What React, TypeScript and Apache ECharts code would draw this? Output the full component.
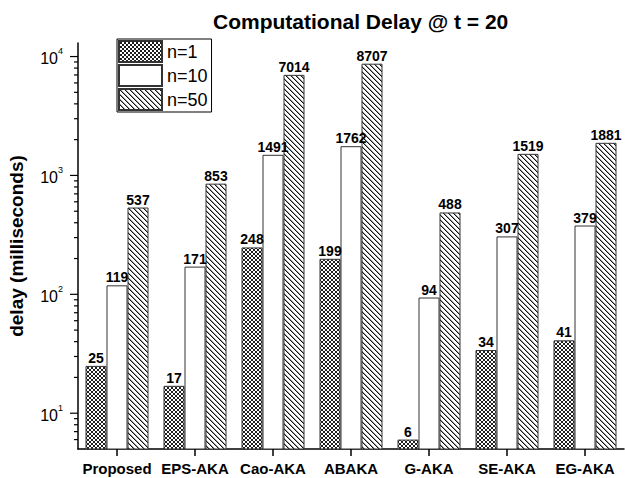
import React, { useEffect, useRef, useState } from "react";
import * as echarts from "echarts";

const categories = ["Proposed", "EPS-AKA", "Cao-AKA", "ABAKA", "G-AKA", "SE-AKA", "EG-AKA"];
const seriesNames = ["n=1", "n=10", "n=50"];
const n1 = [25, 17, 248, 199, 6, 34, 41];
const n10 = [119, 171, 1491, 1762, 94, 307, 379];
const n50 = [537, 853, 7014, 8707, 488, 1519, 1881];
const yMajorTicks = [10, 100, 1000, 10000];
const yMinorBelowFirst = [6, 7, 8, 9];
const yMinorMultipliers = [2, 3, 4, 5, 6, 7, 8, 9];
const yMin = 5;
const yMax = 13000;

const FONT = "'Liberation Sans', Arial, Helvetica, sans-serif";

function makePattern(kind: "cross" | "hatch") {
  const n = kind === "cross" ? 4 : 5;
  const c = document.createElement("canvas");
  c.width = n;
  c.height = n;
  const ctx = c.getContext("2d")!;
  ctx.fillStyle = "#fff";
  ctx.fillRect(0, 0, n, n);
  if (kind === "cross") {
    ctx.fillStyle = "#1e1e1e";
    for (let i = 0; i < n; i++) {
      ctx.fillRect(i, i, 1, 1);
      ctx.fillRect(n - 1 - i, i, 1, 1);
    }
  } else {
    for (let i = 0; i < n; i++) {
      ctx.fillStyle = "#111";
      ctx.fillRect(i, i, 1, 1);
      ctx.fillStyle = "#999";
      ctx.fillRect((i + 1) % n, i, 1, 1);
    }
  }
  return { image: c, repeat: "repeat" } as any;
}

export default function App() {
  const ref = useRef<HTMLDivElement>(null);
  const [err, setErr] = useState("");
  useEffect(() => {
    if (!ref.current) return;
    const chart = echarts.init(ref.current, undefined, { renderer: "svg" });
    const errors: string[] = [];

    const patterns = [makePattern("cross"), "#ffffff", makePattern("hatch")];
    const values = [n1, n10, n50];

    const barSeries = seriesNames.map((name, i) => ({
      name,
      type: "bar",
      data: values[i],
      barWidth: 21,
      barGap: "0%",
      itemStyle: {
        color: patterns[i],
        borderColor: "#333",
        borderWidth: 1,
      },
      label: {
        show: true,
        position: "top",
        distance: 1,
        fontFamily: FONT,
        fontWeight: "bold",
        fontSize: 14,
        color: "#000",
      },
    }));

    try {
      chart.setOption({
        animation: false,
        backgroundColor: "#fff",
        title: {
          text: "Computational Delay @ t = 20",
          left: 213,
          top: 11,
          padding: 0,
          textStyle: { fontFamily: FONT, fontWeight: "bold", fontSize: 21, color: "#000" },
        },
        legend: {
          data: seriesNames,
          orient: "vertical",
          left: 117,
          top: 39,
          itemWidth: 43,
          itemHeight: 21,
          itemGap: 1,
          icon: "rect",
          padding: [1, 4, 1, 1],
          borderColor: "#000",
          borderWidth: 1,
          textStyle: { fontFamily: FONT, fontSize: 18, color: "#000" },
        },
        grid: {
          left: 78,
          top: 43,
          width: 546,
          bottom: 29,
          outerBoundsMode: "none",
        },
        xAxis: {
          type: "category",
          data: categories,
          axisLine: { show: true, lineStyle: { color: "#000", width: 1.5 } },
          axisTick: { show: false },
          axisLabel: {
            fontFamily: FONT,
            fontWeight: "bold",
            fontSize: 15,
            color: "#000",
            margin: 12,
            interval: 0,
          },
          splitLine: { show: false },
        },
        yAxis: {
          type: "log",
          min: yMin,
          max: yMax,
          name: "delay (milliseconds)",
          nameLocation: "middle",
          nameGap: 52,
          nameTextStyle: {
            fontFamily: FONT,
            fontWeight: "bold",
            fontSize: 19,
            color: "#000",
          },
          axisLine: { show: true, lineStyle: { color: "#000", width: 1.5 } },
          axisTick: { show: false },
          splitLine: { show: false },
          axisLabel: {
            margin: 15,
            color: "#000",
            fontFamily: FONT,
            formatter: (v: number) => {
              const l = Math.log10(v);
              const e = Math.round(l);
              if (Math.abs(l - e) > 1e-6) return "";
              return `{b|10}{s|${e}}`;
            },
            rich: {
              b: { fontFamily: FONT, fontSize: 16, lineHeight: 20, verticalAlign: "bottom", color: "#000" },
              s: { fontFamily: FONT, fontSize: 9, lineHeight: 9, verticalAlign: "top", color: "#000" },
            },
          },
        },
        series: barSeries,
      });
    } catch (e: any) {
      errors.push("A:" + String(e && e.message));
    }

    // Axis ticks (log majors and 2..9 minors, category ticks), positioned through the chart's scales
    const graphics: any[] = [];
    try {
      const x0 = chart.convertToPixel({ xAxisIndex: 0 }, 0) as number;
      const x1 = chart.convertToPixel({ xAxisIndex: 0 }, 1) as number;
      const axisX = x0 - (x1 - x0) / 2;
      const axisY = chart.convertToPixel({ yAxisIndex: 0 }, yMin) as number;

      const yTicks: { v: number; len: number }[] = [];
      yMajorTicks.forEach((v) => yTicks.push({ v, len: 8 }));
      yMinorBelowFirst.forEach((v) => yTicks.push({ v, len: 4 }));
      yMajorTicks.forEach((d) =>
        yMinorMultipliers.forEach((m) => {
          const v = m * d;
          if (v < yMax) yTicks.push({ v, len: 4 });
        })
      );
      yTicks.forEach(({ v, len }) => {
        const y = chart.convertToPixel({ yAxisIndex: 0 }, v) as number;
        graphics.push({
          type: "line",
          silent: true,
          z: 100,
          shape: { x1: axisX - len, y1: y, x2: axisX, y2: y },
          style: { stroke: "#000", lineWidth: 1.2 },
        });
      });
      categories.forEach((_, i) => {
        const x = chart.convertToPixel({ xAxisIndex: 0 }, i) as number;
        graphics.push({
          type: "line",
          silent: true,
          z: 100,
          shape: { x1: x, y1: axisY, x2: x, y2: axisY + 7 },
          style: { stroke: "#000", lineWidth: 1.5 },
        });
      });
      if (!isFinite(axisX) || !isFinite(axisY)) errors.push("B:nan " + x0 + "," + x1 + "," + axisY);
    } catch (e: any) {
      errors.push("C:" + String(e && e.message));
    }
    try {
      chart.setOption({ graphic: { elements: graphics } });
    } catch (e: any) {
      errors.push("D:" + String(e && e.message));
    }
    if (errors.length) setErr(errors.join(" | ").slice(0, 200));

    return () => chart.dispose();
  }, []);
  return (
    <div style={{ position: "absolute", left: 0, top: 0, width: 625, height: 478 }}>
      <div ref={ref} style={{ width: 625, height: 478, overflow: "hidden" }} />
      {err ? (
        <div style={{ position: "absolute", left: 2, bottom: 0, fontSize: 9, color: "#c00", fontFamily: "sans-serif" }}>
          {err}
        </div>
      ) : null}
    </div>
  );
}
